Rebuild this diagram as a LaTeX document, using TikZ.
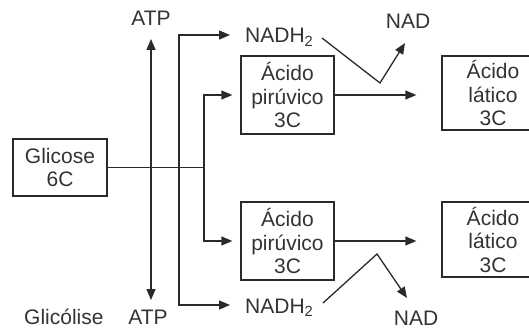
\documentclass[tikz,border=0pt]{standalone}
\usepackage{fontspec}
\setmainfont{Liberation Sans}
\usetikzlibrary{arrows.meta,calc}
\definecolor{ink}{HTML}{2A2A2A}
\definecolor{txt}{HTML}{333333}
\tikzset{
  box/.style={draw=ink, line width=1.3pt, inner sep=0pt, align=center, text=txt,
    font=\fontsize{21}{23.5}\selectfont},
  lbl/.style={inner sep=0pt, text=txt, font=\fontsize{21}{24}\selectfont},
  line/.style={draw=ink, line width=1.3pt},
  arr/.style={line, -{Triangle[length=11pt,width=9pt]}},
  arrtwo/.style={line, {Triangle[length=11pt,width=9pt]}-{Triangle[length=11pt,width=9pt]}}
}
\begin{document}
\begin{tikzpicture}[x=1pt,y=-1pt]
\useasboundingbox (0,0) rectangle (529,329);
\clip (0,0) rectangle (529,329);
% boxes
\node[box, minimum width=94pt, minimum height=57pt] (glic) at (60,167.5) {Glicose\\6C};
\node[box, minimum width=93pt, minimum height=78pt] (pyr1) at (287.5,95) {Ácido\\pirúvico\\3C};
\node[box, minimum width=93pt, minimum height=78pt] (pyr2) at (287.5,241) {Ácido\\pirúvico\\3C};
\node[box, minimum width=102pt, minimum height=74pt] (lat1) at (493,93) {Ácido\\lático\\3C};
\node[box, minimum width=102pt, minimum height=75pt] (lat2) at (493,239.5) {Ácido\\lático\\3C};
% labels
\node[lbl, anchor=base] (atp1) at (151,25.7) {ATP};
\node[lbl, anchor=base] (atp2) at (148,324) {ATP};
\node[lbl, anchor=base west] (glicol) at (24,324) {Glicólise};
\node[lbl, anchor=base west] (nadh1) at (245,43) {NADH\textsubscript{2}};
\node[lbl, anchor=base west] (nadh2) at (245,313) {NADH\textsubscript{2}};
\node[lbl, anchor=base] (nad1) at (408,29) {NAD};
\node[lbl, anchor=base] (nad2) at (416,325) {NAD};
% coordinates
\coordinate (jp) at (204,167.5);
\coordinate (atpT) at (151,39);
\coordinate (atpB) at (151,300);
\coordinate (n1) at (230,35);
\coordinate (n2) at (230,305);
\coordinate (s1) at (322,38);
\coordinate (v1) at (380,83);
\coordinate (t1) at (405,43);
\coordinate (s2) at (323,303);
\coordinate (v2) at (377,254);
\coordinate (t2) at (407,298);
% connectors
\draw[line] (glic.east) -- (jp);
\draw[arr, shorten >=8pt] (jp) |- (pyr1.west);
\draw[arr, shorten >=8pt] (jp) |- (pyr2.west);
\draw[arrtwo] (atpB) -- (atpT);
\draw[arrtwo] (n1) -| (179,170) |- (n2);
\draw[arr, shorten >=25pt] (pyr1.east) -- (pyr1.east -| lat1.west);
\draw[arr, shorten >=25pt] (pyr2.east) -- (pyr2.east -| lat2.west);
\draw[arr] (s1) -- (v1) -- (t1);
\draw[arr] (s2) -- (v2) -- (t2);
\end{tikzpicture}
\end{document}
